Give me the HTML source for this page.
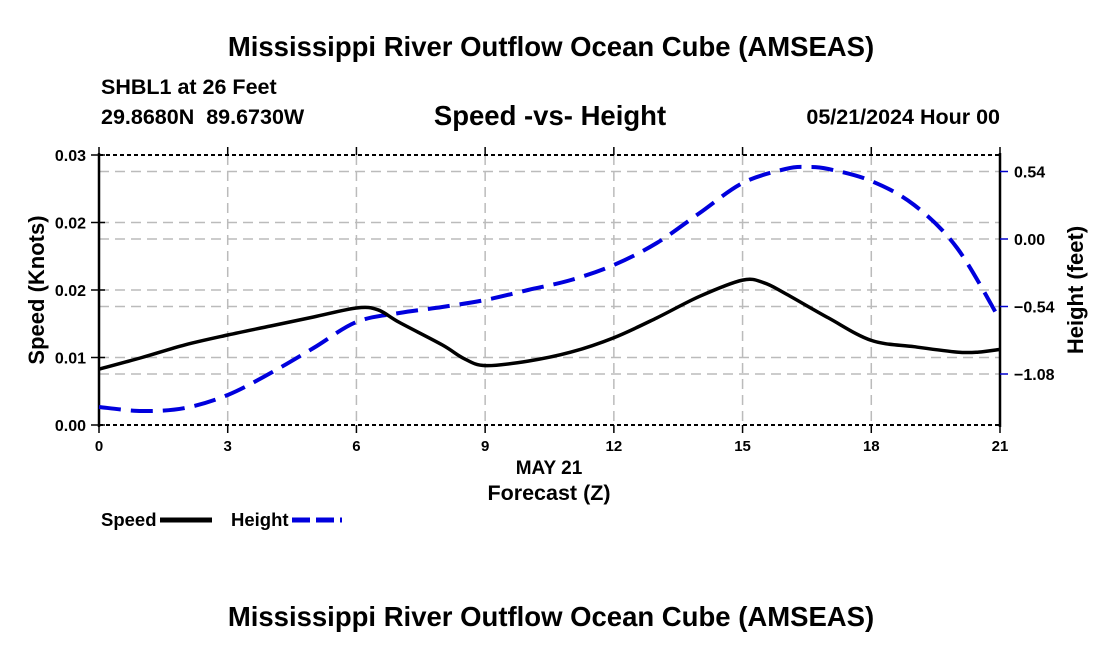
<!DOCTYPE html>
<html><head><meta charset="utf-8"><style>
body{margin:0;background:#fff;}
svg{display:block;font-family:"Liberation Sans",Arial,sans-serif;}
</style></head><body>
<svg width="1100" height="650" viewBox="0 0 1100 650">
<text x="551" y="56" text-anchor="middle" font-size="27.5" font-weight="bold">Mississippi River Outflow Ocean Cube (AMSEAS)</text>
<text x="101" y="94" font-size="21.5" font-weight="bold">SHBL1 at 26 Feet</text>
<text x="101" y="124" font-size="21.5" font-weight="bold">29.8680N&#160;&#160;89.6730W</text>
<text x="550" y="125" text-anchor="middle" font-size="27.5" font-weight="bold">Speed -vs- Height</text>
<text x="1000" y="124" text-anchor="end" font-size="21.5" font-weight="bold">05/21/2024 Hour 00</text>
<g id="grid"></g>
<g id="axes"></g>
<g id="series"></g>
<text x="549" y="474" text-anchor="middle" font-size="19" font-weight="bold">MAY 21</text>
<text x="549" y="500" text-anchor="middle" font-size="21.5" font-weight="bold">Forecast (Z)</text>
<text transform="translate(44,290) rotate(-90)" text-anchor="middle" font-size="22" font-weight="bold">Speed (Knots)</text>
<text transform="translate(1083,290) rotate(-90)" text-anchor="middle" font-size="22" font-weight="bold">Height (feet)</text>
<g>
<text x="101" y="526" font-size="18.5" font-weight="bold">Speed</text>
<line x1="160" y1="520" x2="212" y2="520" stroke="#000" stroke-width="5"/>
<text x="231" y="526" font-size="18.5" font-weight="bold">Height</text>
<line x1="292" y1="520" x2="342" y2="520" stroke="#0000dd" stroke-width="5" stroke-dasharray="18,6"/>
</g>
<text x="551" y="626" text-anchor="middle" font-size="27.5" font-weight="bold">Mississippi River Outflow Ocean Cube (AMSEAS)</text>
</svg>
<script>
const speedHours=[0,1,2,3,4,5,6,6.5,7,8,8.5,9,10,11,12,13,14,15,15.5,16,17,18,19,20,20.5,21];
const speedValues=[0.0062,0.0075,0.0089,0.0100,0.0110,0.0120,0.0130,0.0128,0.0114,0.0089,0.0074,0.0066,0.0071,0.0081,0.0097,0.0119,0.0143,0.0161,0.0158,0.0146,0.0119,0.0094,0.0087,0.0081,0.0081,0.0084];
const heightHours=[0,1,2,3,4,5,6,7,8,9,10,11,12,13,14,15,16,16.5,17,18,19,20,21];
const heightValues=[-1.344,-1.376,-1.352,-1.248,-1.072,-0.872,-0.664,-0.592,-0.544,-0.488,-0.408,-0.328,-0.208,-0.032,0.208,0.448,0.56,0.576,0.56,0.464,0.272,-0.072,-0.648];
const xTicks=[0,3,6,9,12,15,18,21];
const leftTicks=[0,0.0075,0.015,0.0225,0.03];
const leftLabels=["0.00","0.01","0.02","0.02","0.03"];
const rightTicks=[-1.08,-0.54,0,0.54];
const rightLabels=["\u22121.08","\u22120.54","0.00","0.54"];
const X0=99,X1=1000,Y0=425,Y1=155;
const x=h=>X0+(X1-X0)*h/21;
const yL=v=>Y0-(Y0-Y1)*v/0.03;
const yR=v=>239-v*125;
const NS="http://www.w3.org/2000/svg";
function mk(parent,tag,attrs){const e=document.createElementNS(NS,tag);for(const k in attrs)e.setAttribute(k,attrs[k]);document.getElementById(parent).appendChild(e);return e;}
const gs={stroke:"#bbb","stroke-width":1.5,"stroke-dasharray":"10,6"};
xTicks.forEach(t=>{if(t>0&&t<21){const l=mk("grid","line",Object.assign({x1:x(t),x2:x(t),y1:Y1,y2:Y0},gs));

}});
leftTicks.forEach(t=>{if(t>0&&t<0.03){const l=mk("grid","line",Object.assign({x1:X0,x2:X1,y1:yL(t),y2:yL(t)},gs));

}});
rightTicks.forEach(t=>{const l=mk("grid","line",Object.assign({x1:X0,x2:X1,y1:yR(t),y2:yR(t)},gs));

});
[[X0,Y1,X1,Y1],[X0,Y0,X1,Y0]].forEach(c=>{const l=mk("axes","line",{x1:c[0],y1:c[1],x2:c[2],y2:c[3],stroke:"#000","stroke-width":2,"stroke-dasharray":"4,3"});

});
[[X0],[X1]].forEach(c=>{const l=mk("axes","line",{x1:c[0],y1:Y1-2,x2:c[0],y2:Y0+2,stroke:"#000","stroke-width":2.5});

});
xTicks.forEach(t=>{const l=mk("axes","line",{x1:x(t),x2:x(t),y1:Y0,y2:Y0+8,stroke:"#000","stroke-width":1.5});


const l2=mk("axes","line",{x1:x(t),x2:x(t),y1:Y1-8,y2:Y1,stroke:"#000","stroke-width":1.5});


const tx=mk("axes","text",{x:x(t),y:Y0+26,"text-anchor":"middle","font-size":15,"font-weight":"bold"});tx.textContent=t;

});
leftTicks.forEach((t,i)=>{const l=mk("axes","line",{x1:X0-8,x2:X0+6,y1:yL(t),y2:yL(t),stroke:"#000","stroke-width":1.5});


const tx=mk("axes","text",{x:X0-13,y:yL(t)+6,"text-anchor":"end","font-size":16,"font-weight":"bold"});tx.textContent=leftLabels[i];

});
rightTicks.forEach((t,i)=>{const l=mk("axes","line",{x1:X1,x2:X1+8,y1:yR(t),y2:yR(t),stroke:"#0000cc","stroke-width":1.5});


const tx=mk("axes","text",{x:X1+14,y:yR(t)+6,"font-size":16,"font-weight":"bold"});tx.textContent=rightLabels[i];

});
function smooth(pts){let d="M"+pts[0][0]+","+pts[0][1];for(let i=0;i<pts.length-1;i++){const p0=pts[Math.max(0,i-1)],p1=pts[i],p2=pts[i+1],p3=pts[Math.min(pts.length-1,i+2)];
const c1=[p1[0]+(p2[0]-p0[0])/6,p1[1]+(p2[1]-p0[1])/6],c2=[p2[0]-(p3[0]-p1[0])/6,p2[1]-(p3[1]-p1[1])/6];d+=" C"+c1+" "+c2+" "+p2;}return d;}
const hp=mk("series","path",{d:smooth(heightHours.map((h,i)=>[x(h),yR(heightValues[i])])),fill:"none",stroke:"#0000dd","stroke-width":4,"stroke-dasharray":"22,10"});


const sp=mk("series","path",{d:smooth(speedHours.map((h,i)=>[x(h),yL(speedValues[i])])),fill:"none",stroke:"#000","stroke-width":3.5});


</script>
</body></html>
